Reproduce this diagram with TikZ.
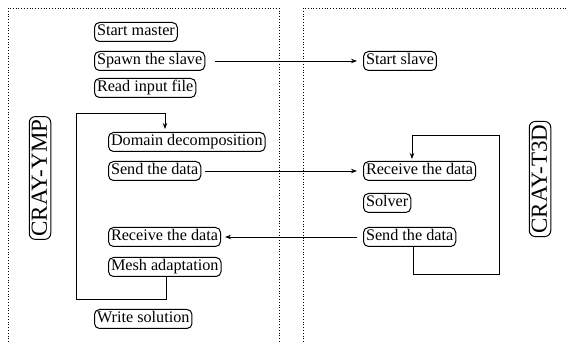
\documentclass[tikz,border=0pt]{standalone}
\usepackage{fontspec}
\setmainfont{Liberation Serif}
\usetikzlibrary{arrows.meta}
\begin{document}
\begin{tikzpicture}[x=1pt,y=-1pt,
  blk/.style={draw, line width=1pt, rounded corners=5pt, anchor=west,
    inner xsep=2.5pt, inner ysep=1.5pt, text height=12pt, text depth=4pt,
    font=\fontsize{16.2pt}{18pt}\selectfont},
  machine/.style={draw, line width=1pt, rounded corners=6pt, rotate=90,
    inner xsep=3pt, inner ysep=1.5pt, text height=16pt, text depth=2.5pt,
    font=\fontsize{23pt}{26pt}\selectfont},
  frame/.style={line width=0.8pt, dotted},
  link/.style={line width=0.9pt},
  arr/.style={link, -{Stealth[length=6pt,width=4.5pt]}}]
\useasboundingbox (0,0) rectangle (566,342);

% machine frames
\draw[frame] (8,342) -- (8,8) -- (279,8) -- (279,342);
\draw[frame] (303,342) -- (303,8) -- (566,8);

% machine labels
\node[machine] (ymp) at (40,178) {CRAY-YMP};
\node[machine] (t3d) at (540,179) {CRAY-T3D};

% master steps
\node[blk] (sm) at (94,32) {Start master};
\node[blk] (sp) at (94,61) {Spawn the slave};
\node[blk] (ri) at (94,88) {Read input file};
\node[blk] (dd) at (108,142) {Domain decomposition};
\node[blk] (sdl) at (108,171) {Send the data};
\node[blk] (rdl) at (108,237) {Receive the data};
\node[blk] (ma) at (108,267) {Mesh adaptation};
\node[blk] (ws) at (94,319) {Write solution};

% slave steps
\node[blk] (ss) at (363,61) {Start slave};
\node[blk] (rdr) at (363,171) {Receive the data};
\node[blk] (sv) at (363,203) {Solver};
\node[blk] (sdr) at (363,237) {Send the data};

% messages between the machines
\draw[arr, shorten <=10pt, shorten >=6pt] (sp.east) -- (ss.west);
\draw[arr, shorten <=4pt, shorten >=6pt] (sdl.east) -- (rdr.west);
\draw[arr, shorten <=6pt, shorten >=4pt] (sdr.west) -- (rdl.east);

% master loop
\coordinate (ml1) at (166,299);
\coordinate (ml2) at (76,113);
\coordinate (ml3) at (165,113);
\draw[link] (ma.south -| ml1) -- (ml1) -| (ml2) -- (ml3);
\draw[arr, shorten >=3pt] (ml3) -- (dd.north -| ml3);

% slave loop
\coordinate (sl1) at (413,274);
\coordinate (sl2) at (499,135);
\coordinate (sl3) at (412,135);
\draw[link] (sdr.south -| sl1) -- (sl1) -| (sl2) -- (sl3);
\draw[arr, shorten >=2pt] (sl3) -- (rdr.north -| sl3);
\end{tikzpicture}
\end{document}
